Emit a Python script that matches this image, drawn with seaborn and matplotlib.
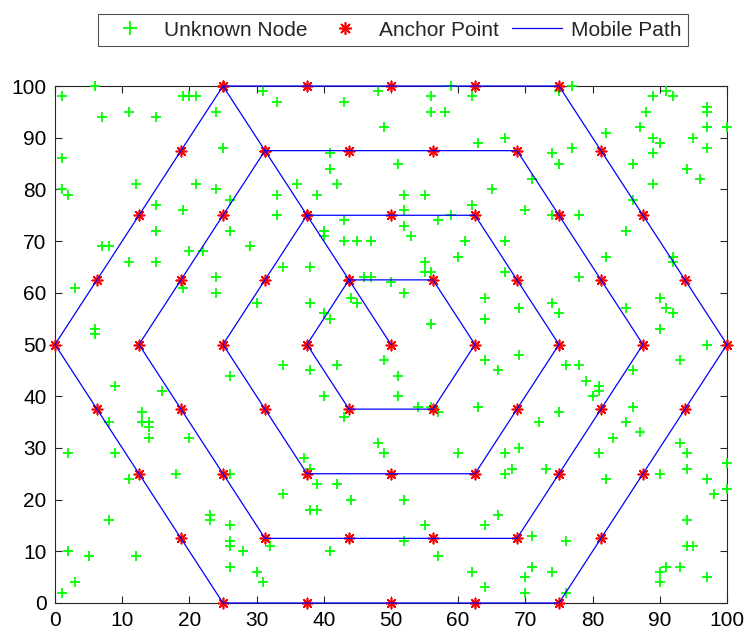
import numpy as np
import pandas as pd
import matplotlib
matplotlib.use("Agg")
import matplotlib.pyplot as plt
import seaborn as sns
from matplotlib.lines import Line2D

# ---------------- data ----------------
node_x = [6, 1, 19, 20, 21, 11, 7, 15, 24, 1, 25, 1, 2, 12, 21, 24, 15, 19, 15, 7, 8, 11, 15, 20, 22, 3, 19, 24, 24, 6, 6,
          31, 33, 43, 48, 49, 41, 41, 36, 42, 33, 39, 26, 33, 43, 26, 29, 40, 40, 43, 45, 47, 34, 38, 46, 47, 50, 30, 38, 44, 45, 40, 41,
          59, 56, 62, 56, 58, 75, 63, 67, 74, 75, 51, 71, 65, 52, 55, 52, 62, 70, 74, 59, 57, 52, 53, 61, 67, 60, 55, 55, 56, 67, 52, 64, 69, 64, 74, 75, 56,
          77, 89, 91, 92, 97, 97, 88, 87, 82, 97, 100, 89, 90, 95, 89, 97, 77, 86, 94, 96, 89, 86, 78, 85, 82, 92, 92, 78, 90, 91, 92, 85, 90, 97,
          9, 16, 13, 8, 13, 14, 14, 14, 20, 2, 9, 11, 18, 8, 23, 23, 2, 5, 12, 3, 1,
          26, 34, 38, 42, 49, 40, 43, 48, 49, 37, 38, 26, 39, 42, 34, 44, 38, 39, 26, 26, 26, 28, 32, 41, 26, 30, 31,
          64, 69, 66, 51, 51, 54, 56, 57, 63, 75, 72, 60, 67, 69, 67, 68, 73, 52, 55, 66, 64, 52, 71, 57, 62, 64, 71, 70, 74, 70,
          76, 78, 93, 86, 79, 81, 81, 80, 86, 85, 87, 83, 81, 82, 93, 94, 94, 90, 97, 98, 100, 100, 94, 94, 95, 93, 91, 90, 90, 97, 76, 76]
node_y = [100, 98, 98, 98, 98, 95, 94, 94, 95, 86, 88, 80, 79, 81, 81, 80, 77, 76, 72, 69, 69, 66, 66, 68, 68, 61, 61, 63, 60, 53, 52,
          99, 97, 97, 99, 92, 87, 84, 81, 81, 79, 79, 78, 75, 74, 72, 69, 72, 71, 70, 70, 70, 65, 65, 63, 63, 62, 58, 58, 59, 58, 56, 55,
          100, 98, 98, 95, 95, 99, 89, 90, 87, 85, 85, 82, 80, 79, 79, 76, 77, 76, 75, 75, 74, 73, 71, 70, 70, 67, 66, 64, 64, 64, 60, 59, 57, 55, 58, 56, 54,
          100, 98, 99, 98, 96, 95, 95, 92, 91, 92, 92, 90, 89, 90, 87, 88, 88, 85, 84, 82, 81, 78, 75, 72, 67, 67, 66, 63, 59, 57, 56, 57, 53, 50,
          42, 41, 37, 35, 35, 35, 34, 32, 32, 29, 29, 24, 25, 16, 17, 16, 10, 9, 9, 4, 2,
          44, 46, 45, 46, 47, 40, 36, 31, 29, 28, 26, 25, 23, 23, 21, 20, 18, 18, 15, 12, 11, 10, 11, 10, 7, 6, 4,
          47, 48, 45, 44, 40, 38, 38, 37, 38, 37, 35, 29, 29, 30, 25, 26, 26, 20, 15, 17, 15, 12, 13, 9, 6, 3, 7, 5, 6, 2,
          46, 46, 47, 45, 43, 42, 41, 40, 38, 35, 33, 32, 29, 24, 31, 29, 26, 25, 24, 21, 27, 22, 16, 11, 11, 7, 7, 6, 4, 5, 12, 2]

# mobile path through the anchor points (spiral from the centre outwards)
path_x = [50,
          43.75, 56.25, 62.5, 56.25, 43.75, 37.5, 43.75,
          37.5, 50, 62.5, 68.75, 75, 68.75, 62.5, 50, 37.5, 31.25, 25, 31.25, 37.5,
          31.25, 43.75, 56.25, 68.75, 75, 81.25, 87.5, 81.25, 75, 68.75, 56.25, 43.75, 31.25, 25, 18.75, 12.5, 18.75, 25, 31.25,
          25, 37.5, 50, 62.5, 75, 81.25, 87.5, 93.75, 100, 93.75, 87.5, 81.25, 75, 62.5, 50, 37.5, 25, 18.75, 12.5, 6.25, 0, 6.25, 12.5, 18.75, 25]
path_y = [50,
          62.5, 62.5, 50, 37.5, 37.5, 50, 62.5,
          75, 75, 75, 62.5, 50, 37.5, 25, 25, 25, 37.5, 50, 62.5, 75,
          87.5, 87.5, 87.5, 87.5, 75, 62.5, 50, 37.5, 25, 12.5, 12.5, 12.5, 12.5, 25, 37.5, 50, 62.5, 75, 87.5,
          100, 100, 100, 100, 100, 87.5, 75, 62.5, 50, 37.5, 25, 12.5, 0, 0, 0, 0, 0, 12.5, 25, 37.5, 50, 62.5, 75, 87.5, 100]

ticks = [0, 10, 20, 30, 40, 50, 60, 70, 80, 90, 100]
labels = ["Unknown Node", "Anchor Point", "Mobile Path"]

nodes = pd.DataFrame({"x": node_x, "y": node_y})
path = pd.DataFrame({"x": path_x, "y": path_y})

# ---------------- style ----------------
sns.set_style("ticks")
plt.rcParams["font.family"] = ["Liberation Sans", "DejaVu Sans"]
plt.rcParams["xtick.direction"] = "in"
plt.rcParams["ytick.direction"] = "in"

fig = plt.figure(figsize=(7.46, 6.41), dpi=100)
ax = fig.add_axes([0.0737, 0.0593, 0.9008, 0.8065])

green = "#00ff00"
red = "#ff0000"
blue = "#0000ff"
asterisk = (8, 2, 0)

sns.scatterplot(data=nodes, x="x", y="y", marker="+", s=58, color=green,
                linewidth=1.3, ax=ax, zorder=2, legend=False)
sns.scatterplot(data=path, x="x", y="y", marker=asterisk, s=55, color=red,
                edgecolor=red, linewidth=1.2, ax=ax, zorder=3, legend=False)
sns.lineplot(data=path, x="x", y="y", sort=False, estimator=None, color=blue,
             linewidth=0.9, ax=ax, zorder=4, legend=False)
for art in list(ax.collections) + list(ax.lines):
    art.set_clip_on(False)

ax.set_xlim(0, 100)
ax.set_ylim(0, 100)
ax.set_xticks(ticks)
ax.set_yticks(ticks)
ax.set_xlabel("")
ax.set_ylabel("")
edge = "#262626"
for sp in ax.spines.values():
    sp.set_visible(True)
    sp.set_color(edge)
    sp.set_linewidth(0.8)
    sp.set_zorder(1)
ax.tick_params(axis="both", which="both", direction="in", length=5, width=0.8,
               colors=edge, labelsize=15, top=True, right=True, pad=6)
for t in ax.get_xticklabels() + ax.get_yticklabels():
    t.set_color("#000000")

handles = [
    Line2D([], [], linestyle="none", marker="+", markersize=10, markeredgewidth=1.3, color=green),
    Line2D([], [], linestyle="none", marker=asterisk, markersize=9, markeredgewidth=1.2, color=red),
    Line2D([], [], color=blue, linewidth=0.9),
]
leg = fig.legend(handles, labels, ncol=3, loc="center", bbox_to_anchor=(0.527, 0.953),
                 frameon=True, fancybox=False, edgecolor=edge, fontsize=15,
                 handlelength=2.4, columnspacing=0.6, handletextpad=0.45,
                 borderpad=0.3, borderaxespad=0)
leg.get_frame().set_linewidth(0.8)

fig.savefig("out.png", dpi=100)
